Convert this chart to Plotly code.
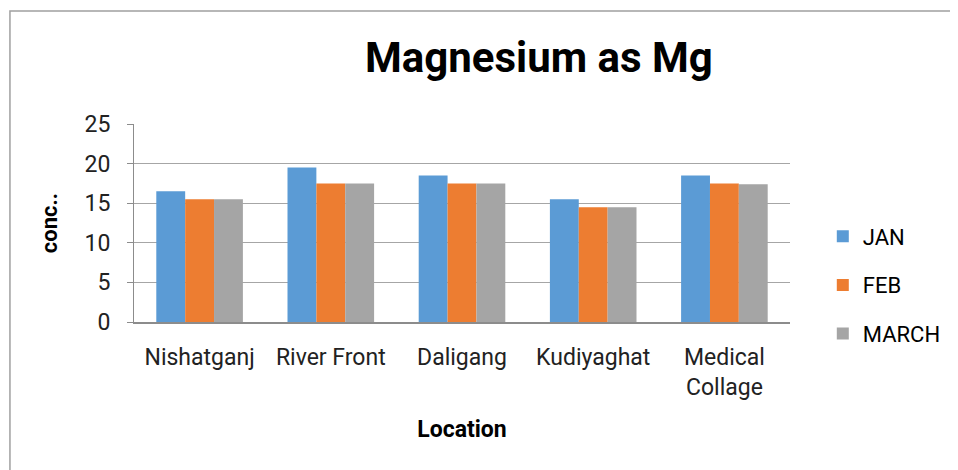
import plotly.graph_objects as go

# datos
ubicaciones = ["Nishatganj", "River Front", "Daligang", "Kudiyaghat", "Medical<br>Collage"]
meses = ["JAN", "FEB", "MARCH"]
jan = [16.5, 19.5, 18.5, 15.5, 18.5]
feb = [15.5, 17.5, 17.5, 14.5, 17.5]
march = [15.5, 17.5, 17.5, 14.5, 17.4]
colores = ["#5B9BD5", "#ED7D31", "#A5A5A5"]

fuente = "Roboto"

# la pagina tiene 8px de margen, asi que la figura mide 950x462
L, T, W, H = 126, 116, 661, 198

fig = go.Figure()
for i, (mes, vals) in enumerate(zip(meses, [jan, feb, march])):
    fig.add_trace(go.Bar(
        x=ubicaciones,
        y=vals,
        name=mes,
        marker_color=colores[i],
        marker_line_width=0,
        legendgroup=mes
    ))

fig.update_layout(
    width=950,
    height=462,
    margin=dict(l=L, r=950 - L - W, t=T, b=462 - T - H),
    paper_bgcolor="white",
    plot_bgcolor="white",
    barmode="group",
    bargap=0.34,
    bargroupgap=0,
    font=dict(family=fuente, size=23, color="#222222"),
    title=dict(
        text="<b>Magnesium as Mg</b>",
        x=(534 - L) / W, xref="paper", xanchor="center",
        y=1 - 49 / 462, yanchor="middle",
        font=dict(family=fuente, size=42, color="black")
    ),
    legend=dict(
        x=1.05, y=(314 - 277) / H, xanchor="left", yanchor="middle",
        font=dict(family=fuente, size=22, color="black"),
        tracegroupgap=17,
        itemwidth=30
    ),
    showlegend=True
)

fig.update_yaxes(
    range=[0, 25],
    dtick=5,
    showgrid=True,
    gridcolor="#A6A6A6",
    gridwidth=1,
    showline=True,
    linecolor="#8C8C8C",
    linewidth=1,
    ticks="outside",
    ticklen=6,
    tickcolor="#8C8C8C",
    ticklabelstandoff=12,
    zeroline=False,
    title=dict(text="<b>conc..</b>", font=dict(family=fuente, size=22, color="black"), standoff=20)
)
fig.update_xaxes(
    showline=True,
    linecolor="#8C8C8C",
    linewidth=2,
    ticks="",
    ticklabelstandoff=13,
    title=dict(text="<b>Location</b>", font=dict(family=fuente, size=23, color="black"), standoff=21)
)

# marco exterior del grafico
fig.add_shape(
    type="rect", xref="paper", yref="paper",
    x0=(1 - L) / W, x1=(980 - L) / W,
    y0=(T + H - 500) / H, y1=(T + H - 3) / H,
    line=dict(color="#A0A0A0", width=1.5),
    fillcolor="rgba(0,0,0,0)"
)

fig.write_html("out.html")
